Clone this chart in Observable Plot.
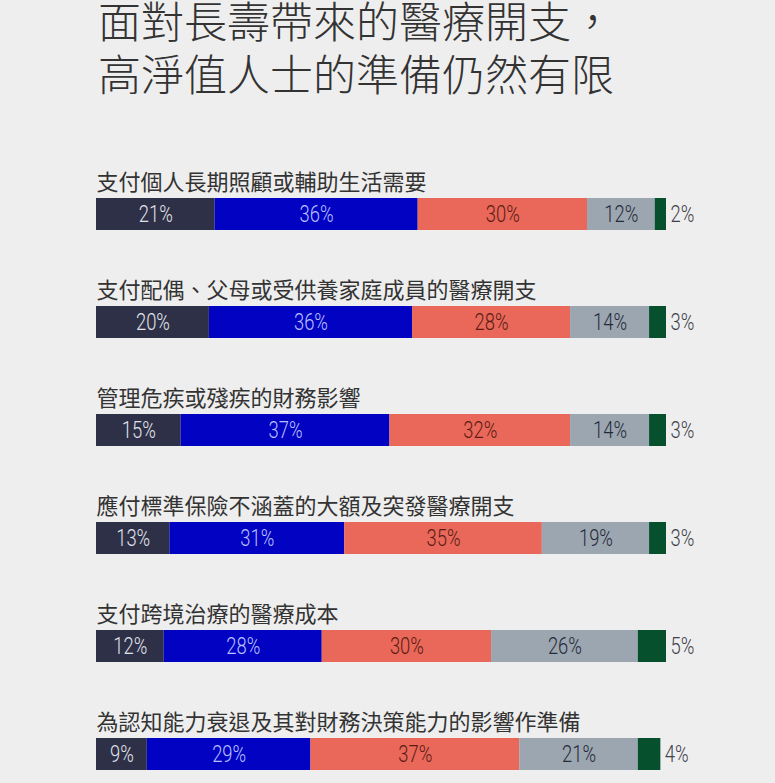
<!DOCTYPE html>
<html>
<head>
<meta charset="utf-8">
<script src="https://cdn.jsdelivr.net/npm/d3@7"></script>
<script src="https://cdn.jsdelivr.net/npm/@observablehq/plot@0.6"></script>
<style>
  html, body { margin: 0; padding: 0; background: #eeeeee; }
  #wrap { width: 775px; height: 783px; overflow: hidden; background: #eeeeee; }
  .title {
    box-sizing: border-box;
    height: 120px;
    padding: 0 0 0 98px;
    font-family: "Noto Sans CJK TC", "Noto Sans CJK SC", sans-serif;
    font-weight: 300;
    font-size: 43px;
    line-height: 53px;
    color: #333333;
    white-space: nowrap;
  }
  .title span { display: block; position: relative; top: -7px; }
  #chart svg { display: block; background: transparent; }
</style>
</head>
<body>
<div id="wrap">
  <div class="title"><span>面對長壽帶來的醫療開支，</span><span>高淨值人士的準備仍然有限</span></div>
  <div id="chart"></div>
</div>
<script>
const categories = [
  "支付個人長期照顧或輔助生活需要",
  "支付配偶、父母或受供養家庭成員的醫療開支",
  "管理危疾或殘疾的財務影響",
  "應付標準保險不涵蓋的大額及突發醫療開支",
  "支付跨境治療的醫療成本",
  "為認知能力衰退及其對財務決策能力的影響作準備"
];
const seriesKeys = ["s1", "s2", "s3", "s4", "s5"];
const series1 = [21, 20, 15, 13, 12, 9];
const series2 = [36, 36, 37, 31, 28, 29];
const series3 = [30, 28, 32, 35, 30, 37];
const series4 = [12, 14, 14, 19, 26, 21];
const series5 = [2, 3, 3, 3, 5, 4];

const seriesColors = ["#2d3047", "#0202c2", "#e9685a", "#9ba6b1", "#07502d"];
const labelColors = ["#e2e3ea", "#b9c0ff", "#5a1c14", "#262a38", "#3d404c"];

const allSeries = [series1, series2, series3, series4, series5];
const rows = [];
categories.forEach((cat, i) => {
  allSeries.forEach((vals, j) => {
    rows.push({cat, series: seriesKeys[j], j, value: vals[i]});
  });
});

const pctFont = 'Roboto, "Liberation Sans", sans-serif';

const chart = Plot.plot({
  width: 775,
  height: 663,
  marginLeft: 96,
  marginRight: 109,
  marginTop: 0,
  marginBottom: 0,
  style: {background: "transparent", fontFamily: '"Noto Sans CJK TC", sans-serif'},
  x: {domain: [0, 101], axis: null},
  y: {domain: categories, range: [76, 652], paddingInner: 0.706, paddingOuter: 0, axis: null},
  color: {type: "identity"},
  marks: [
    Plot.barX(rows, Plot.stackX({
      x: "value", y: "cat", z: "series",
      fill: d => seriesColors[d.j]
    })),
    Plot.text(rows, Plot.stackX({
      x: "value", y: "cat", z: "series",
      text: d => d.j < 4 ? d.value + "%" : "",
      fill: d => labelColors[d.j],
      fontSize: 23,
      fontWeight: 300,
      fontFamily: pctFont
    })),
    Plot.text(rows, Plot.stackX2({
      x: "value", y: "cat", z: "series",
      text: d => d.j === 4 ? d.value + "%" : "",
      fill: labelColors[4],
      textAnchor: "start",
      dx: 4,
      fontSize: 23,
      fontWeight: 300,
      fontFamily: pctFont
    })),
    Plot.text(categories, {
      y: d => d,
      text: d => d,
      frameAnchor: "left",
      textAnchor: "start",
      dy: -32,
      fontSize: 22,
      fill: "#333333",
      fontFamily: '"Noto Sans CJK TC", sans-serif'
    })
  ]
});

// condense the percentage labels horizontally (the reference uses a narrow face)
d3.select(chart).selectAll("text").each(function() {
  if (!/%$/.test(this.textContent)) return;
  const tr = this.getAttribute("transform") || "";
  this.setAttribute("transform", (tr + " scale(0.8,1)").trim());
});

document.getElementById("chart").appendChild(chart);
</script>
</body>
</html>
